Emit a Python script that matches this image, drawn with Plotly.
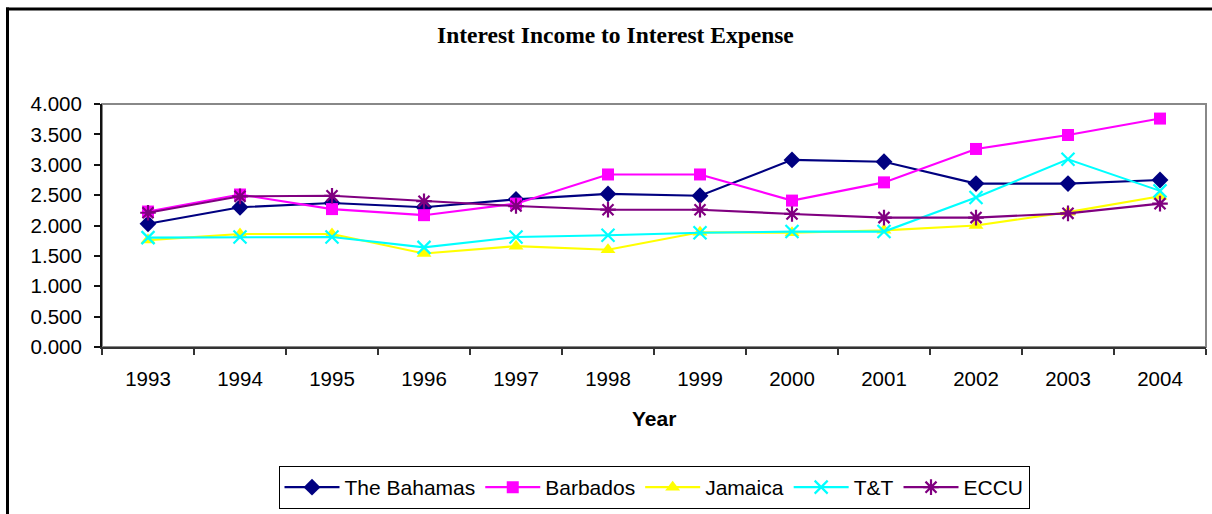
import plotly.graph_objects as go

years = ["1993", "1994", "1995", "1996", "1997", "1998",
         "1999", "2000", "2001", "2002", "2003", "2004"]

bahamas = [2.03, 2.30, 2.37, 2.30, 2.43, 2.52, 2.49, 3.08, 3.05, 2.69, 2.69, 2.75]
barbados = [2.23, 2.51, 2.27, 2.17, 2.36, 2.84, 2.84, 2.41, 2.71, 3.26, 3.49, 3.76]
jamaica = [1.76, 1.86, 1.86, 1.54, 1.66, 1.60, 1.89, 1.88, 1.92, 2.00, 2.22, 2.48]
tt = [1.80, 1.81, 1.81, 1.64, 1.81, 1.84, 1.88, 1.90, 1.90, 2.46, 3.09, 2.57]
eccu = [2.21, 2.48, 2.49, 2.40, 2.32, 2.26, 2.26, 2.19, 2.13, 2.13, 2.20, 2.36]

series = [
    ("The Bahamas", bahamas, "#000080", dict(symbol="diamond", size=13)),
    ("Barbados", barbados, "#FF00FF", dict(symbol="square", size=12)),
    ("Jamaica", jamaica, "#FFFF00", dict(symbol="triangle-up", size=13)),
    ("T&T", tt, "#00FFFF", dict(symbol="x-thin", size=13, line=dict(width=2.2, color="#00FFFF"))),
    ("ECCU", eccu, "#800080", dict(symbol="asterisk", size=13, line=dict(width=2.2, color="#800080"))),
]

fig = go.Figure()
for name, vals, color, marker in series:
    fig.add_trace(go.Scatter(
        x=years, y=vals, name=name, mode="lines+markers",
        line=dict(color=color, width=2.1),
        marker=dict(color=color, **marker),
    ))

W, H = 1212, 514
L, R, T, B = 102, 6, 104, 166
pw, ph = W - L - R, H - T - B


def px(xp):
    return (xp - L) / pw


def py(yp):
    return (H - B - yp) / ph


fig.update_layout(
    width=W, height=H,
    margin=dict(l=L, r=R, t=T, b=B),
    paper_bgcolor="white", plot_bgcolor="white",
    font=dict(family="Arial, Liberation Sans, sans-serif", size=20, color="black"),
    showlegend=True,
    legend=dict(
        orientation="h", x=0.5, xanchor="center", y=py(466), yanchor="top",
        bordercolor="black", borderwidth=1, itemwidth=55,
        font=dict(size=21), bgcolor="white", tracegroupgap=0,
    ),
    xaxis=dict(
        type="category", range=[-0.5, 11.5], tickson="boundaries",
        ticks="outside", ticklen=6, tickcolor="#333", tickwidth=1.5,
        showline=True, linecolor="#333", linewidth=2,
        showgrid=False, zeroline=False, ticklabelstandoff=12,
        tickfont=dict(size=20.5),
    ),
    yaxis=dict(
        range=[0, 4], dtick=0.5, tickformat=".3f",
        ticks="outside", ticklen=6, tickcolor="#111", tickwidth=1.5,
        showline=True, linecolor="#111", linewidth=2,
        showgrid=False, zeroline=False, ticklabelstandoff=8,
        tickfont=dict(size=20.5),
    ),
    shapes=[
        # grey frame around the plotting area
        dict(type="rect", xref="paper", yref="paper", x0=0, x1=1, y0=0, y1=1,
             line=dict(color="#888", width=2), layer="below"),
        # outer chart frame (top and left edges)
        dict(type="line", xref="paper", yref="paper",
             x0=px(6), x1=px(1215), y0=py(8.5), y1=py(8.5),
             line=dict(color="black", width=3)),
        dict(type="line", xref="paper", yref="paper",
             x0=px(7.5), x1=px(7.5), y0=py(7), y1=py(520),
             line=dict(color="black", width=3)),
    ],
    annotations=[
        dict(text="<b>Interest Income to Interest Expense</b>", xref="paper", yref="paper",
             x=px(615), y=py(35), xanchor="center", yanchor="middle", showarrow=False,
             font=dict(family="Liberation Serif, Times New Roman, serif", size=23.5, color="black")),
        dict(text="<b>Year</b>", xref="paper", yref="paper",
             x=px(654), y=py(420), xanchor="center", yanchor="middle", showarrow=False,
             font=dict(size=21, color="black")),
    ],
)

fig.write_html("out.html")
